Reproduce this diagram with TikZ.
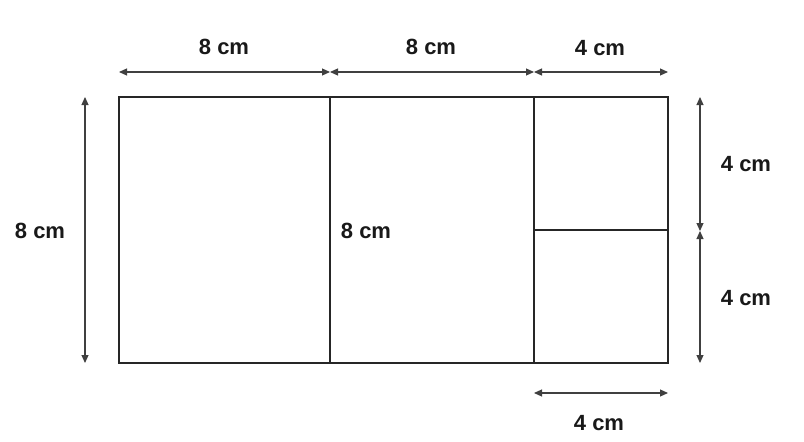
\documentclass[tikz,border=0pt]{standalone}
\usepackage{fontspec}
\setmainfont{Liberation Sans}
\usetikzlibrary{arrows.meta}
\begin{document}
\begin{tikzpicture}[x=1pt,y=-1pt,
  shape line/.style={line width=1.2pt,draw=black!85},
  dim/.style={line width=1.1pt,draw=black!75,{Triangle[length=8pt,width=7pt]}-{Triangle[length=8pt,width=7pt]}},
  lbl/.style={font=\fontsize{22}{24}\selectfont\bfseries,inner sep=0pt,text=black!90}]
\useasboundingbox (0,0) rectangle (804,442);
% corners
\coordinate (A) at (119,97);
\coordinate (B) at (330,97);
\coordinate (C) at (534,97);
\coordinate (D) at (668,97);
\coordinate (A2) at (119,363);
\coordinate (B2) at (330,363);
\coordinate (C2) at (534,363);
\coordinate (D2) at (668,363);
\coordinate (M1) at (534,230);
\coordinate (M2) at (668,230);
\draw[shape line] (A) rectangle (D2);
\draw[shape line] (B) -- (B2);
\draw[shape line] (C) -- (C2);
\draw[shape line] (M1) -- (M2);
% dimension end points
\coordinate (t1) at (119,72);
\coordinate (t2) at (330,72);
\coordinate (t3) at (534,72);
\coordinate (t4) at (668,72);
\coordinate (l1) at (85,97);
\coordinate (l2) at (85,363);
\coordinate (r1) at (700,97);
\coordinate (r2) at (700,231);
\coordinate (r3) at (700,363);
\coordinate (b1) at (534,393);
\coordinate (b2) at (668,393);
\draw[dim] (t1) -- (t2);
\draw[dim] (t2) -- (t3);
\draw[dim] (t3) -- (t4);
\draw[dim] (l1) -- (l2);
\draw[dim] (r1) -- (r2);
\draw[dim] (r2) -- (r3);
\draw[dim] (b1) -- (b2);
% labels
\node[lbl] (n1) at (224,47) {8 cm};
\node[lbl] (n2) at (431,47) {8 cm};
\node[lbl] (n3) at (600,48) {4 cm};
\node[lbl] (n4) at (40,231) {8 cm};
\node[lbl] (n5) at (366,231) {8 cm};
\node[lbl] (n6) at (746,164) {4 cm};
\node[lbl] (n7) at (746,298) {4 cm};
\node[lbl] (n8) at (599,423) {4 cm};
\end{tikzpicture}
\end{document}
